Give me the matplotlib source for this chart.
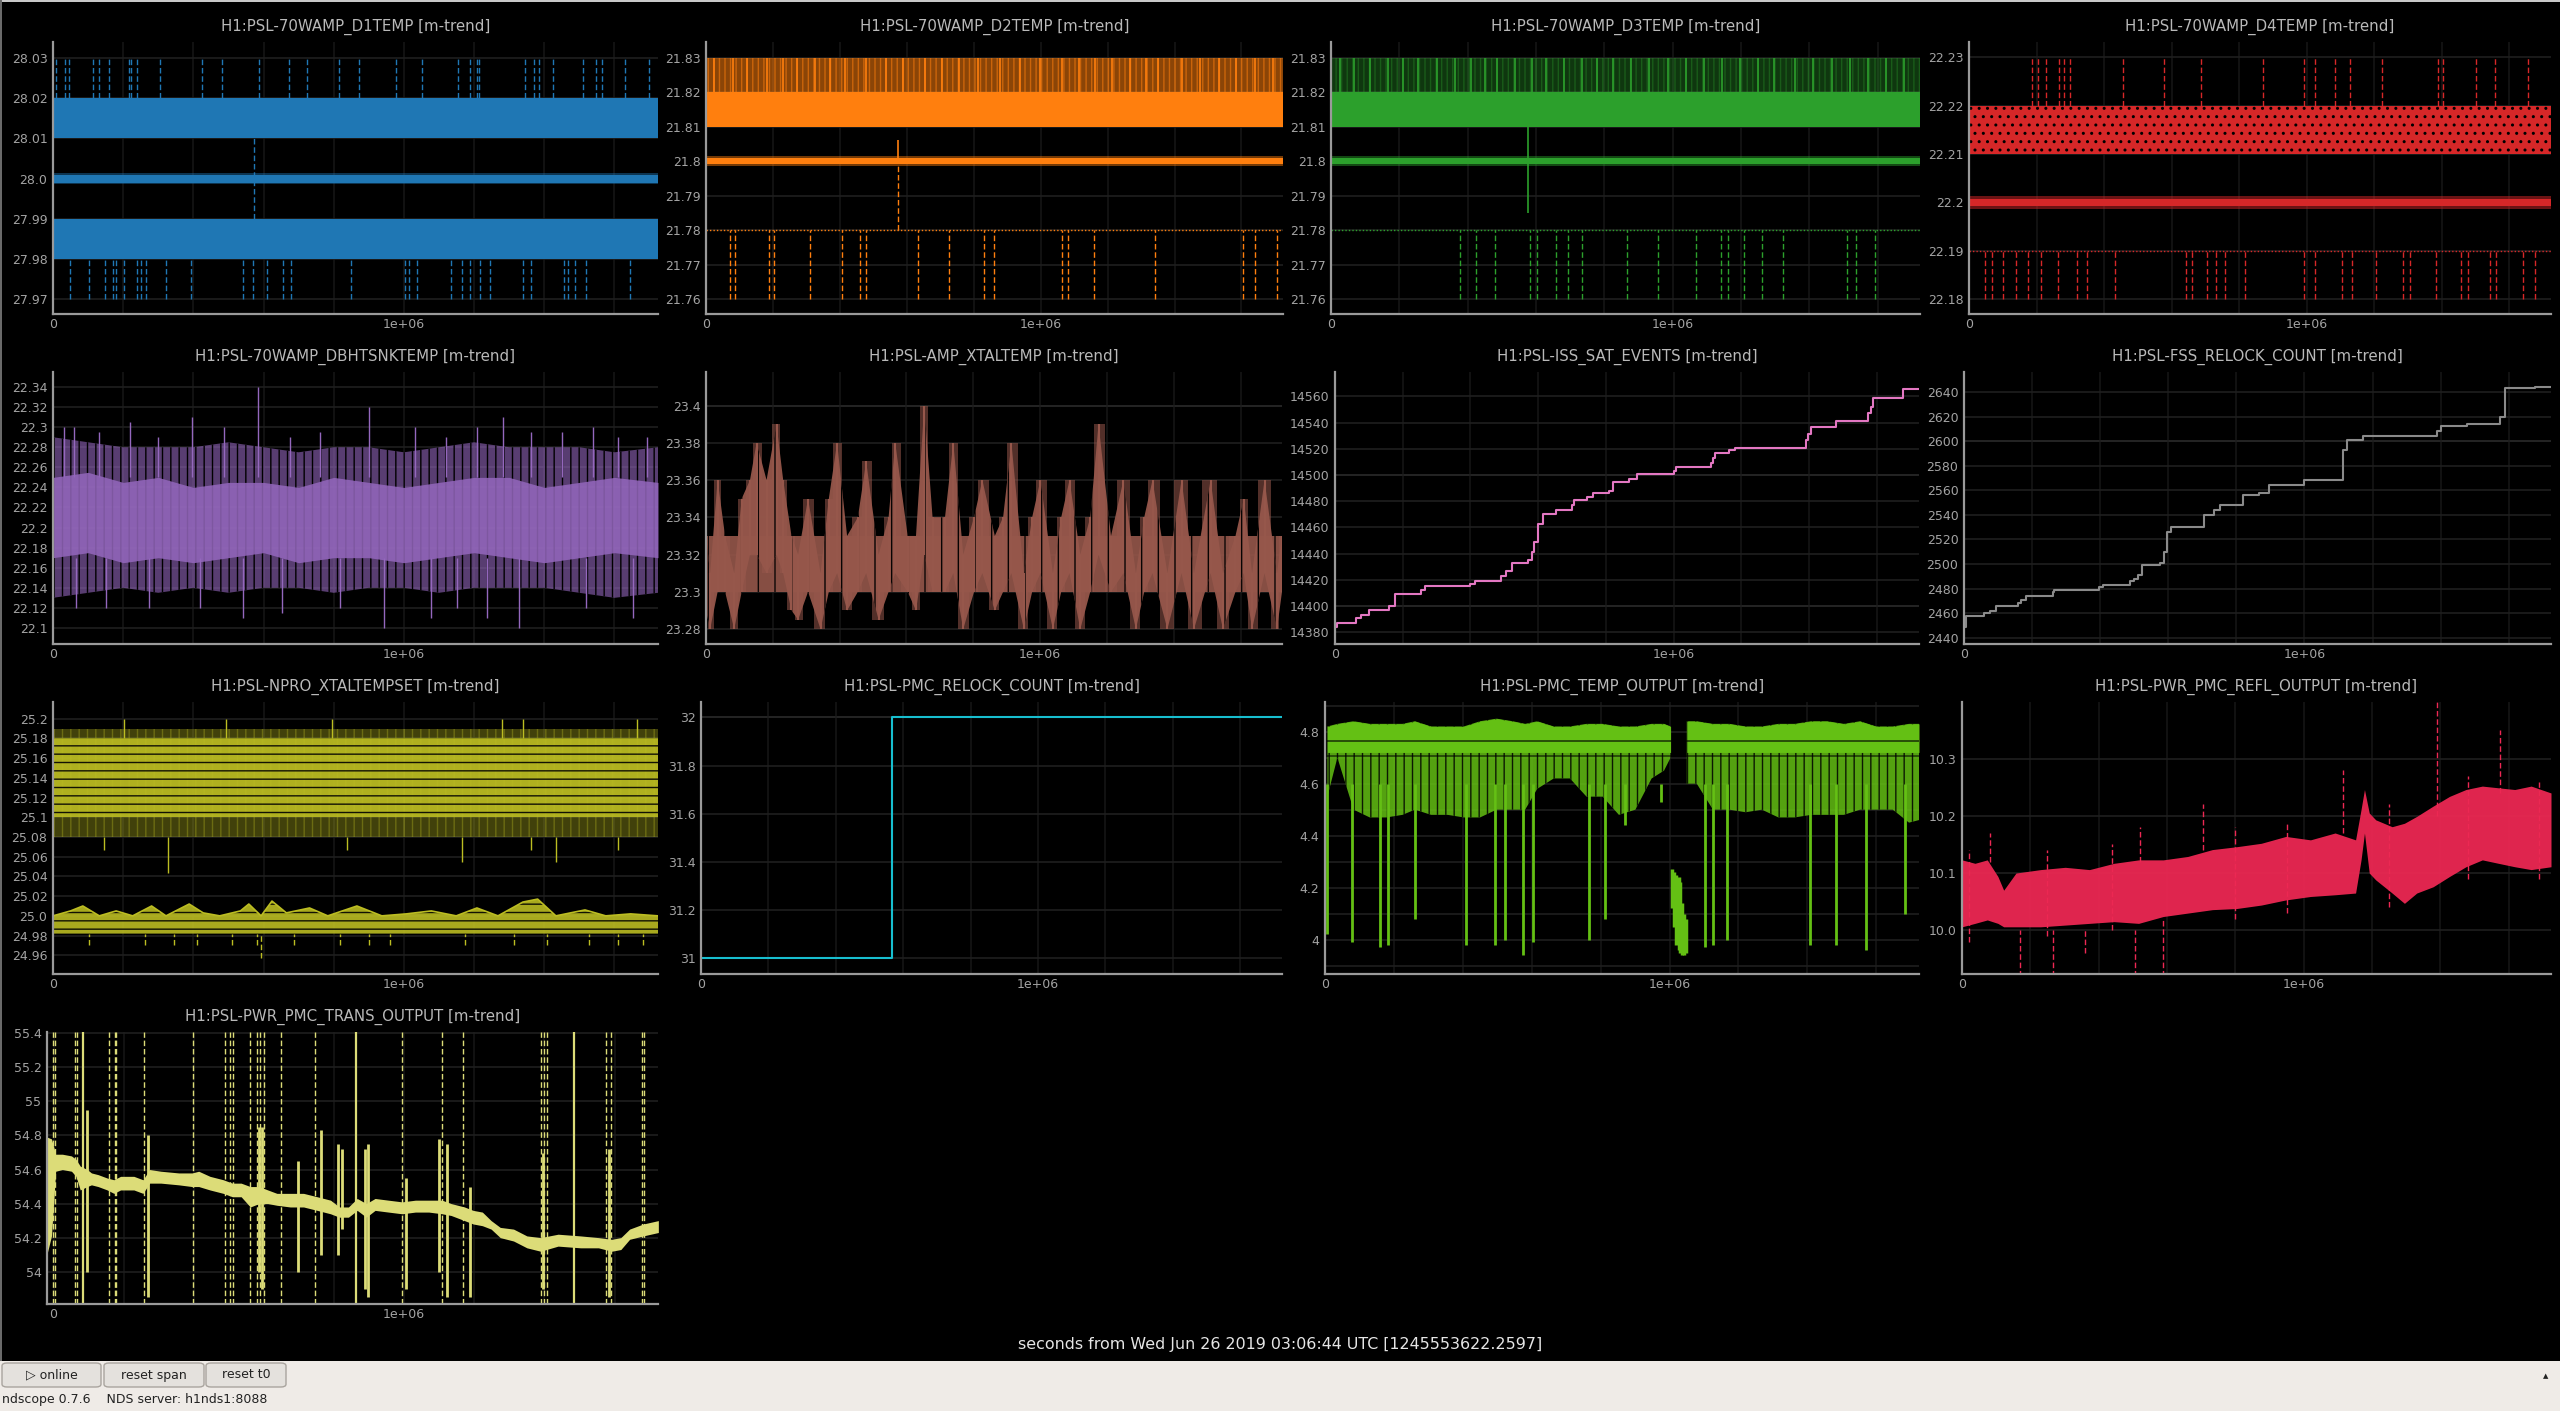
import numpy as np
import matplotlib
matplotlib.use('Agg')
import matplotlib.pyplot as plt
from matplotlib.patches import FancyBboxPatch, Rectangle

plt.rcParams['font.family'] = ['DejaVu Sans']
plt.rcParams['hatch.color'] = 'black'
plt.rcParams['hatch.linewidth'] = 1.0

W, H = 2560, 1411
MS = 1e6
XMAX = 1.724e6

# ---------------- data ----------------
x_ticks = [0, 1e6]
x_ticklabels = ['0', '1e+06']
x_minor = [2e5, 4e5, 6e5, 8e5, 1.2e6, 1.4e6, 1.6e6]
xlabel_text = 'seconds from Wed Jun 26 2019 03:06:44 UTC [1245553622.2597]'

titles = ['H1:PSL-70WAMP_D1TEMP [m-trend]', 'H1:PSL-70WAMP_D2TEMP [m-trend]',
          'H1:PSL-70WAMP_D3TEMP [m-trend]', 'H1:PSL-70WAMP_D4TEMP [m-trend]',
          'H1:PSL-70WAMP_DBHTSNKTEMP [m-trend]', 'H1:PSL-AMP_XTALTEMP [m-trend]',
          'H1:PSL-ISS_SAT_EVENTS [m-trend]', 'H1:PSL-FSS_RELOCK_COUNT [m-trend]',
          'H1:PSL-NPRO_XTALTEMPSET [m-trend]', 'H1:PSL-PMC_RELOCK_COUNT [m-trend]',
          'H1:PSL-PMC_TEMP_OUTPUT [m-trend]', 'H1:PSL-PWR_PMC_REFL_OUTPUT [m-trend]',
          'H1:PSL-PWR_PMC_TRANS_OUTPUT [m-trend]']

# D1TEMP
d1_yticks = [27.97, 27.98, 27.99, 28.0, 28.01, 28.02, 28.03]
d1_ylabels = ['27.97', '27.98', '27.99', '28.0', '28.01', '28.02', '28.03']
d1_max_band = [28.01, 28.02]
d1_mean_band = [27.9990, 28.0010]
d1_min_band = [27.98, 27.99]
d1_up_spikes = [0.009, 0.033, 0.046, 0.114, 0.130, 0.159, 0.216, 0.221, 0.240, 0.305, 0.425, 0.482,
                0.587, 0.672, 0.724, 0.816, 0.873, 0.976, 1.052, 1.155, 1.189, 1.209, 1.214, 1.344,
                1.371, 1.384, 1.426, 1.510, 1.547, 1.563, 1.629, 1.698]
d1_low_spikes = [0.048, 0.103, 0.147, 0.172, 0.179, 0.203, 0.239, 0.250, 0.266, 0.323, 0.392, 0.540,
                 0.569, 0.611, 0.654, 0.679, 0.849, 1.002, 1.014, 1.038, 1.134, 1.166, 1.189, 1.218,
                 1.246, 1.339, 1.363, 1.455, 1.468, 1.487, 1.520, 1.644]
d1_mid_spike = 0.572

# D2TEMP
d23_yticks = [21.76, 21.77, 21.78, 21.79, 21.80, 21.81, 21.82, 21.83]
d23_ylabels = ['21.76', '21.77', '21.78', '21.79', '21.8', '21.81', '21.82', '21.83']
d2_up_lines = [0.025, 0.080, 0.123, 0.182, 0.229, 0.272, 0.327, 0.370, 0.414, 0.479, 0.537, 0.588,
               0.653, 0.704, 0.755, 0.813, 0.878, 0.937, 0.998, 1.064, 1.114, 1.162, 1.212, 1.267,
               1.314, 1.350, 1.423, 1.477, 1.532, 1.583, 1.641, 1.695]
d2_low_spikes = [0.073, 0.087, 0.189, 0.203, 0.312, 0.407, 0.461, 0.479, 0.632, 0.726, 0.831, 0.860,
                 1.064, 1.082, 1.158, 1.343, 1.604, 1.641, 1.706]
d2_spike = [0.574, 21.806]

# D3TEMP
d3_up_lines = [0.025, 0.068, 0.114, 0.167, 0.210, 0.256, 0.309, 0.363, 0.409, 0.451, 0.487, 0.540,
               0.587, 0.629, 0.683, 0.736, 0.779, 0.825, 0.878, 0.931, 0.985, 1.038, 1.091, 1.145,
               1.198, 1.251, 1.298, 1.358, 1.411, 1.465, 1.518, 1.571, 1.625, 1.678]
d3_low_spikes = [0.377, 0.423, 0.480, 0.583, 0.604, 0.658, 0.693, 0.736, 0.867, 0.956, 1.067, 1.141,
                 1.162, 1.209, 1.262, 1.322, 1.511, 1.536, 1.593]
d3_spike = [0.576, 21.785]

# D4TEMP
d4_yticks = [22.18, 22.19, 22.20, 22.21, 22.22, 22.23]
d4_ylabels = ['22.18', '22.19', '22.2', '22.21', '22.22', '22.23']
d4_up_spikes = [0.187, 0.205, 0.227, 0.266, 0.281, 0.299, 0.457, 0.579, 0.687, 0.871, 0.993, 1.026,
                1.083, 1.130, 1.224, 1.389, 1.404, 1.501, 1.558, 1.656]
d4_low_spikes = [0.047, 0.068, 0.101, 0.140, 0.176, 0.212, 0.263, 0.320, 0.349, 0.432, 0.644, 0.662,
                 0.705, 0.731, 0.759, 0.817, 0.993, 1.026, 1.105, 1.134, 1.206, 1.285, 1.306, 1.382,
                 1.458, 1.479, 1.544, 1.562, 1.641, 1.677]

# DBHTSNKTEMP
db_yticks = [22.10, 22.12, 22.14, 22.16, 22.18, 22.20, 22.22, 22.24, 22.26, 22.28, 22.30, 22.32, 22.34]
db_ylabels = ['22.1', '22.12', '22.14', '22.16', '22.18', '22.2', '22.22', '22.24', '22.26', '22.28',
              '22.3', '22.32', '22.34']
db_x = [0, 0.1, 0.2, 0.3, 0.4, 0.5, 0.6, 0.7, 0.8, 0.9, 1.0, 1.1, 1.2, 1.3, 1.4, 1.5, 1.6, 1.724]
db_outer_hi = [22.29, 22.285, 22.28, 22.28, 22.28, 22.285, 22.28, 22.275, 22.28, 22.28, 22.275, 22.28,
               22.285, 22.28, 22.28, 22.28, 22.275, 22.28]
db_outer_lo = [22.13, 22.135, 22.14, 22.135, 22.14, 22.135, 22.14, 22.14, 22.135, 22.14, 22.14, 22.135,
               22.14, 22.14, 22.14, 22.135, 22.13, 22.135]
db_inner_hi = [22.25, 22.255, 22.245, 22.25, 22.24, 22.245, 22.245, 22.24, 22.25, 22.245, 22.24, 22.245,
               22.25, 22.25, 22.24, 22.245, 22.25, 22.245]
db_inner_lo = [22.17, 22.175, 22.165, 22.17, 22.165, 22.17, 22.175, 22.165, 22.17, 22.17, 22.165, 22.17,
               22.175, 22.17, 22.165, 22.17, 22.175, 22.17]
db_up_x = [0.584, 0.901, 0.395, 1.282, 0.220, 1.540, 0.061, 1.209, 1.031, 0.487, 0.676, 1.362, 1.611, 1.693,
           0.030, 0.130, 0.300, 0.760, 1.120, 1.450]
db_up_v = [22.34, 22.32, 22.31, 22.31, 22.305, 22.30, 22.30, 22.30, 22.30, 22.30, 22.29, 22.295, 22.29, 22.29,
           22.30, 22.295, 22.29, 22.295, 22.29, 22.295]
db_dn_x = [0.542, 0.944, 1.078, 1.237, 1.327, 1.653, 0.066, 0.274, 0.653, 0.818, 0.150, 0.420, 1.150, 1.520]
db_dn_v = [22.11, 22.10, 22.11, 22.11, 22.10, 22.11, 22.12, 22.12, 22.115, 22.12, 22.12, 22.12, 22.12, 22.12]

# AMP_XTALTEMP
xt_yticks = [23.28, 23.30, 23.32, 23.34, 23.36, 23.38, 23.40]
xt_ylabels = ['23.28', '23.3', '23.32', '23.34', '23.36', '23.38', '23.4']
xt_core = [23.30, 23.33]
xt_x = [0, 0.0124, 0.0348, 0.0571, 0.0845, 0.1068, 0.1317, 0.1515, 0.1813, 0.2111, 0.2310, 0.2559,
        0.2757, 0.3055, 0.3428, 0.3676, 0.3925, 0.4223, 0.4546, 0.4794, 0.5167, 0.5465, 0.5664, 0.6036,
        0.6285, 0.6533, 0.6781, 0.7154, 0.7402, 0.7700, 0.8023, 0.8272, 0.8644, 0.8893, 0.9141, 0.9514,
        0.9762, 1.0011, 1.0383, 1.0632, 1.0880, 1.1203, 1.1501, 1.1749, 1.2122, 1.2494, 1.2867, 1.3116,
        1.3364, 1.3811, 1.4233, 1.4606, 1.5103, 1.5475, 1.5848, 1.6096, 1.6345, 1.6717, 1.7090, 1.724]
xt_lo = [23.29, 23.28, 23.30, 23.30, 23.28, 23.30, 23.32, 23.32, 23.31, 23.32, 23.31, 23.29,
         23.285, 23.30, 23.28, 23.30, 23.31, 23.29, 23.30, 23.31, 23.285, 23.30, 23.31, 23.30,
         23.29, 23.32, 23.30, 23.30, 23.31, 23.28, 23.30, 23.31, 23.29, 23.30, 23.31, 23.28,
         23.30, 23.31, 23.28, 23.30, 23.31, 23.28, 23.30, 23.32, 23.30, 23.31, 23.28, 23.30,
         23.31, 23.28, 23.31, 23.28, 23.31, 23.28, 23.30, 23.31, 23.28, 23.31, 23.28, 23.30]
xt_hi = [23.33, 23.31, 23.36, 23.33, 23.31, 23.35, 23.36, 23.38, 23.36, 23.39, 23.36, 23.33,
         23.32, 23.35, 23.31, 23.35, 23.38, 23.33, 23.34, 23.37, 23.32, 23.34, 23.38, 23.33,
         23.33, 23.40, 23.34, 23.34, 23.38, 23.32, 23.34, 23.36, 23.33, 23.34, 23.38, 23.31,
         23.34, 23.36, 23.31, 23.34, 23.36, 23.32, 23.34, 23.39, 23.33, 23.36, 23.31, 23.34,
         23.36, 23.31, 23.36, 23.31, 23.36, 23.31, 23.33, 23.35, 23.31, 23.36, 23.31, 23.33]

# ISS_SAT_EVENTS
iss_yticks = [14380, 14400, 14420, 14440, 14460, 14480, 14500, 14520, 14540, 14560]
iss_t = [0.000, 0.007, 0.063, 0.077, 0.099, 0.159, 0.178, 0.255, 0.265, 0.400, 0.412, 0.490, 0.504,
         0.523, 0.569, 0.581, 0.586, 0.598, 0.615, 0.651, 0.699, 0.707, 0.743, 0.762, 0.808, 0.822,
         0.868, 0.892, 1.001, 1.008, 1.109, 1.116, 1.123, 1.162, 1.181, 1.389, 1.396, 1.406, 1.479,
         1.574, 1.582, 1.589, 1.678, 1.724]
iss_v = [14384, 14387, 14391, 14393, 14397, 14400, 14409, 14412, 14415, 14417, 14419, 14423, 14427,
         14433, 14435, 14441, 14449, 14463, 14470, 14473, 14477, 14481, 14483, 14486, 14488, 14495,
         14497, 14501, 14503, 14506, 14509, 14513, 14517, 14519, 14521, 14527, 14531, 14537, 14541,
         14547, 14552, 14559, 14566, 14566]

# FSS_RELOCK_COUNT
fss_yticks = [2440, 2460, 2480, 2500, 2520, 2540, 2560, 2580, 2600, 2620, 2640]
fss_t = [0, 0.007, 0.060, 0.075, 0.094, 0.159, 0.168, 0.183, 0.260, 0.264, 0.397, 0.409, 0.488, 0.500,
         0.512, 0.524, 0.575, 0.587, 0.596, 0.608, 0.704, 0.733, 0.752, 0.820, 0.865, 0.897, 0.998,
         1.113, 1.125, 1.173, 1.390, 1.402, 1.478, 1.575, 1.589, 1.678, 1.724]
fss_v = [2449, 2458, 2460, 2462, 2466, 2468, 2471, 2474, 2477, 2479, 2481, 2483, 2486, 2488, 2491,
         2499, 2501, 2510, 2526, 2530, 2540, 2544, 2548, 2556, 2558, 2564, 2568, 2593, 2601, 2604,
         2608, 2612, 2614, 2620, 2643, 2644, 2644]

# NPRO_XTALTEMPSET
np_yticks = [24.96, 24.98, 25.00, 25.02, 25.04, 25.06, 25.08, 25.10, 25.12, 25.14, 25.16, 25.18, 25.20]
np_ylabels = ['24.96', '24.98', '25.0', '25.02', '25.04', '25.06', '25.08', '25.1', '25.12', '25.14',
              '25.16', '25.18', '25.2']
np_up_outer = [25.08, 25.19]
np_up_core = [25.10, 25.18]
np_low_x = [0, 0.050, 0.085, 0.132, 0.180, 0.227, 0.281, 0.322, 0.388, 0.428, 0.475, 0.534, 0.558,
            0.593, 0.624, 0.665, 0.731, 0.783, 0.866, 0.937, 1.007, 1.078, 1.149, 1.208, 1.268,
            1.339, 1.381, 1.433, 1.516, 1.575, 1.646, 1.724]
np_low_hi = [25.00, 25.005, 25.01, 25.0, 25.005, 25.0, 25.01, 25.0, 25.012, 25.003, 25.0, 25.005,
             25.012, 25.0, 25.015, 25.003, 25.008, 25.0, 25.01, 25.0, 25.002, 25.005, 25.0, 25.008,
             25.0, 25.014, 25.017, 25.0, 25.006, 25.0, 25.002, 25.0]
np_low_lo = 24.982
np_dn_x = [0.104, 0.262, 0.345, 0.409, 0.511, 0.582, 0.594, 0.688, 0.818, 0.901, 0.960, 1.173, 1.315,
           1.409, 1.528, 1.610, 1.681]
np_dn_v = [24.97, 24.97, 24.97, 24.97, 24.97, 24.97, 24.957, 24.97, 24.97, 24.97, 24.97, 24.97, 24.97,
           24.97, 24.97, 24.97, 24.97]
np_up_spk = [0.203, 0.494, 0.795, 1.279, 1.339, 1.665]
np_mid_x = [0.144, 0.329, 0.837, 1.166, 1.362, 1.433, 1.611]
np_mid_v = [25.067, 25.043, 25.067, 25.055, 25.067, 25.055, 25.067]

# PMC_RELOCK_COUNT
pr_yticks = [31.0, 31.2, 31.4, 31.6, 31.8, 32.0]
pr_ylabels = ['31', '31.2', '31.4', '31.6', '31.8', '32']
pr_t = [0, 0.568, 1.724]
pr_v = [31, 32, 32]

# PMC_TEMP_OUTPUT
pt_yticks = [4.0, 4.2, 4.4, 4.6, 4.8]
pt_ylabels = ['4', '4.2', '4.4', '4.6', '4.8']
pt_minor = [3.9, 4.1, 4.3, 4.5, 4.7, 4.9]
pt_a_x = [0.007, 0.036, 0.083, 0.130, 0.178, 0.225, 0.261, 0.308, 0.356, 0.403, 0.450, 0.498, 0.545,
          0.581, 0.616, 0.664, 0.711, 0.759, 0.806, 0.853, 0.901, 0.948, 0.984, 1.003]
pt_a_hi = [4.82, 4.83, 4.84, 4.83, 4.83, 4.83, 4.84, 4.82, 4.82, 4.82, 4.84, 4.85, 4.84, 4.83, 4.84,
           4.82, 4.82, 4.83, 4.83, 4.82, 4.82, 4.83, 4.83, 4.82]
pt_a_lo = [4.55, 4.70, 4.50, 4.47, 4.47, 4.48, 4.50, 4.48, 4.48, 4.47, 4.47, 4.50, 4.50, 4.50, 4.58,
           4.62, 4.62, 4.55, 4.55, 4.48, 4.50, 4.62, 4.65, 4.70]
pt_b_x = [1.050, 1.079, 1.126, 1.174, 1.221, 1.268, 1.316, 1.363, 1.411, 1.458, 1.506, 1.553, 1.600,
          1.648, 1.695, 1.724]
pt_b_hi = [4.84, 4.84, 4.83, 4.83, 4.82, 4.82, 4.83, 4.83, 4.84, 4.84, 4.83, 4.84, 4.82, 4.82, 4.83, 4.83]
pt_b_lo = [4.60, 4.60, 4.50, 4.50, 4.49, 4.50, 4.47, 4.47, 4.48, 4.48, 4.48, 4.50, 4.50, 4.50, 4.45, 4.46]
pt_gap_x = [1.008, 1.014, 1.020, 1.026, 1.031, 1.037, 1.043, 1.048]
pt_gap_hi = [4.27, 4.26, 4.25, 4.24, 4.22, 4.14, 4.10, 4.08]
pt_gap_lo = [4.12, 4.05, 3.98, 3.96, 3.95, 3.94, 3.94, 3.95]
pt_dip_x = [0.007, 0.078, 0.159, 0.183, 0.261, 0.410, 0.493, 0.522, 0.574, 0.605, 0.766, 0.813, 0.870,
            0.974, 1.103, 1.126, 1.167, 1.408, 1.482, 1.570, 1.683]
pt_dip_v = [4.02, 3.99, 3.97, 3.98, 4.08, 3.98, 3.98, 4.00, 3.94, 3.99, 4.00, 4.08, 4.44, 4.53, 3.97,
            3.98, 4.00, 3.98, 3.98, 3.96, 4.10]

# PWR_PMC_REFL_OUTPUT
rf_yticks = [10.0, 10.1, 10.2, 10.3]
rf_ylabels = ['10.0', '10.1', '10.2', '10.3']
rf_x = [0, 0.038, 0.074, 0.105, 0.122, 0.158, 0.230, 0.302, 0.373, 0.445, 0.517, 0.589, 0.661, 0.733,
        0.804, 0.876, 0.948, 1.020, 1.092, 1.152, 1.168, 1.178, 1.192, 1.211, 1.259, 1.295, 1.331,
        1.379, 1.427, 1.475, 1.523, 1.570, 1.618, 1.666, 1.724]
rf_hi = [10.123, 10.117, 10.123, 10.094, 10.070, 10.100, 10.106, 10.110, 10.106, 10.117, 10.123,
         10.123, 10.129, 10.141, 10.146, 10.152, 10.164, 10.158, 10.170, 10.158, 10.211, 10.246,
         10.205, 10.193, 10.181, 10.187, 10.199, 10.217, 10.234, 10.246, 10.252, 10.249, 10.246,
         10.252, 10.240]
rf_lo = [10.006, 10.012, 10.018, 10.012, 10.006, 10.006, 10.006, 10.009, 10.012, 10.015, 10.012,
         10.024, 10.030, 10.036, 10.038, 10.044, 10.053, 10.059, 10.062, 10.065, 10.123, 10.170,
         10.100, 10.088, 10.065, 10.047, 10.065, 10.076, 10.094, 10.111, 10.123, 10.117, 10.111,
         10.106, 10.111]
rf_spk_x = [1.391, 1.575, 1.116, 0.704, 0.081, 0.522, 0.170, 0.266, 0.505, 0.589, 0.361,
            0.020, 0.250, 0.440, 0.800, 0.950, 1.250, 1.480, 1.690]
rf_spk_lo = [10.20, 10.24, 10.17, 10.14, 10.12, 10.12, 9.92, 9.92, 9.92, 9.92, 9.96,
             9.98, 9.99, 10.0, 10.02, 10.03, 10.04, 10.09, 10.09]
rf_spk_hi = [10.40, 10.35, 10.28, 10.22, 10.17, 10.18, 10.00, 10.00, 10.00, 10.02, 10.00,
             10.14, 10.14, 10.15, 10.18, 10.19, 10.22, 10.27, 10.26]

# PWR_PMC_TRANS_OUTPUT
tr_yticks = [54.0, 54.2, 54.4, 54.6, 54.8, 55.0, 55.2, 55.4]
tr_ylabels = ['54', '54.2', '54.4', '54.6', '54.8', '55', '55.2', '55.4']
tr_x = [-0.018, -0.006, 0.006, 0.025, 0.051, 0.064, 0.076, 0.096, 0.108, 0.127, 0.153, 0.172, 0.191,
        0.229, 0.255, 0.274, 0.306, 0.357, 0.395, 0.414, 0.446, 0.484, 0.510, 0.535, 0.561, 0.586,
        0.611, 0.637, 0.675, 0.713, 0.752, 0.790, 0.815, 0.841, 0.866, 0.892, 0.917, 0.955, 0.994,
        1.032, 1.070, 1.108, 1.134, 1.172, 1.197, 1.223, 1.248, 1.274, 1.312, 1.350, 1.389, 1.439,
        1.503, 1.554, 1.592, 1.618, 1.643, 1.682, 1.725]
tr_hi = [54.79, 54.78, 54.69, 54.69, 54.68, 54.66, 54.62, 54.60, 54.58, 54.57, 54.55, 54.54, 54.56,
         54.56, 54.54, 54.60, 54.59, 54.58, 54.58, 54.59, 54.56, 54.54, 54.52, 54.52, 54.50, 54.50,
         54.48, 54.46, 54.46, 54.46, 54.44, 54.42, 54.38, 54.38, 54.43, 54.40, 54.43, 54.42, 54.41,
         54.42, 54.42, 54.42, 54.40, 54.38, 54.36, 54.35, 54.30, 54.26, 54.25, 54.21, 54.20, 54.22,
         54.21, 54.20, 54.19, 54.20, 54.25, 54.28, 54.30]
tr_lo = [54.11, 54.21, 54.59, 54.60, 54.59, 54.56, 54.48, 54.50, 54.51, 54.50, 54.48, 54.46, 54.48,
         54.48, 54.46, 54.52, 54.52, 54.51, 54.50, 54.50, 54.48, 54.46, 54.44, 54.44, 54.38, 54.40,
         54.40, 54.39, 54.38, 54.38, 54.36, 54.34, 54.32, 54.32, 54.36, 54.32, 54.36, 54.35, 54.34,
         54.35, 54.35, 54.34, 54.33, 54.30, 54.28, 54.27, 54.25, 54.20, 54.18, 54.14, 54.12, 54.15,
         54.14, 54.14, 54.12, 54.13, 54.19, 54.21, 54.23]
tr_full_spk = [-0.003, 0.003, 0.061, 0.066, 0.157, 0.175, 0.177, 0.257, 0.397, 0.488, 0.504, 0.513,
               0.561, 0.580, 0.590, 0.601, 0.650, 0.745, 0.994, 1.108, 1.169, 1.391, 1.399, 1.408,
               1.577, 1.590, 1.679, 1.684]
tr_solid_spk = [0.083, 0.864, 1.484]
tr_part_x = [0.096, 0.268, 0.698, 0.764, 0.811, 0.822, 0.889, 0.898, 1.004, 1.121, 1.187, 0.585, 0.595,
             1.100, 1.395, 1.583]
tr_part_lo = [54.0, 53.85, 54.0, 54.1, 54.1, 54.25, 53.9, 53.85, 53.9, 53.85, 53.85, 54.0, 53.9,
              54.0, 53.9, 53.85]
tr_part_hi = [54.95, 54.8, 54.65, 54.83, 54.75, 54.72, 54.72, 54.75, 54.55, 54.75, 54.5, 54.85, 54.85,
              54.78, 54.7, 54.72]

# ---------------- style ----------------
BG = 'black'
AXC = '#9a9a9a'
TICKC = '#a3a3a3'
TITLEC = '#b9b9b9'
GRID = '#1f1f1f'
GRID_B = '#3a3a3a'
VGRID = '#151515'
DASH = (0, (4, 2))

fig = plt.figure(figsize=(W / 100, H / 100), dpi=100, facecolor=BG)


def make_ax(l, r, t, b, title, ylim, yticks, ylabels, xlim=(0, XMAX), bright=()):
    ax = fig.add_axes([l / W, 1 - b / H, (r - l) / W, (b - t) / H])
    ax.set_facecolor(BG)
    ax.set_xlim(*xlim)
    ax.set_ylim(*ylim)
    ax.set_xticks(x_ticks)
    ax.set_xticklabels(x_ticklabels)
    ax.set_xticks(x_minor, minor=True)
    ax.set_yticks(yticks)
    ax.set_yticklabels(ylabels)
    for s in ['top', 'right']:
        ax.spines[s].set_visible(False)
    for s in ['left', 'bottom']:
        ax.spines[s].set_color(AXC)
        ax.spines[s].set_linewidth(1.6)
    ax.tick_params(which='both', length=0, colors=TICKC, labelsize=9)
    ax.tick_params(axis='y', pad=4)
    ax.tick_params(axis='x', pad=3)
    ax.grid(True, which='major', axis='y', color=GRID, lw=1.2)
    ax.grid(True, which='both', axis='x', color=VGRID, lw=1.2)
    for v in bright:
        ax.axhline(v, color=GRID_B, lw=1.4, zorder=0.5)
    ax.set_axisbelow(True)
    fig.text((l + r) / 2 / W, 1 - (t - 15) / H, title, ha='center', va='center',
             color=TITLEC, fontsize=10.8)
    return ax


def arr(v):
    return np.asarray(v) * MS


full = [0, XMAX]
R1, R2, R3, R4 = (42, 314), (372, 644), (702, 974), (1032, 1304)

# ---- D1 ----
c = '#1f77b4'
ax = make_ax(53, 658, *R1, titles[0], (27.9663, 28.034), d1_yticks, d1_ylabels)
ax.fill_between(full, *d1_max_band, color=c, lw=0)
ax.fill_between(full, *d1_min_band, color=c, lw=0)
ax.fill_between(full, d1_mean_band[0] - 0.0004, d1_mean_band[1] + 0.0004, color=c, alpha=0.45, lw=0)
ax.fill_between(full, *d1_mean_band, color=c, lw=0)
ax.vlines(arr(d1_up_spikes), 28.02, 28.03, colors=c, lw=1, linestyles=DASH)
ax.vlines(arr(d1_low_spikes), 27.97, 27.98, colors=c, lw=1, linestyles=DASH)
ax.vlines([d1_mid_spike * MS], 27.99, 28.01, colors=c, lw=1, linestyles=DASH)

# ---- D2 / D3 ----
for (l, r, ti, c, up_lines, low_sp, spk, ualpha) in [
        (706, 1283, titles[1], '#ff7f0e', d2_up_lines, d2_low_spikes, d2_spike, 0.55),
        (1331, 1920, titles[2], '#2ca02c', d3_up_lines, d3_low_spikes, d3_spike, 0.35)]:
    ax = make_ax(l, r, *R1, ti, (21.7557, 21.8345), d23_yticks, d23_ylabels)
    ax.fill_between(full, 21.82, 21.83, color=c, alpha=ualpha, lw=0, hatch='|||')
    ax.vlines(arr(up_lines), 21.82, 21.83, colors=c, lw=1.2)
    ax.fill_between(full, 21.81, 21.82, color=c, lw=0)
    ax.fill_between(full, 21.7985, 21.8015, color=c, alpha=0.45, lw=0)
    ax.fill_between(full, 21.7991, 21.8009, color=c, lw=0)
    ax.axhline(21.78, color=c, lw=1, ls=(0, (1, 1.5)))
    ax.vlines(arr(low_sp), 21.76, 21.78, colors=c, lw=1, linestyles=DASH)
    if spk[1] > 21.8:
        ax.vlines([spk[0] * MS], 21.8, spk[1], colors=c, lw=1.2)
        ax.vlines([spk[0] * MS], 21.78, 21.8, colors=c, lw=1, linestyles=DASH)
    else:
        ax.vlines([spk[0] * MS], spk[1], 21.81, colors=c, lw=1.2)

# ---- D4 ----
c = '#d62728'
ax = make_ax(1969, 2551, *R1, titles[3], (22.1769, 22.2332), d4_yticks, d4_ylabels)
ax.vlines(arr(d4_up_spikes), 22.22, 22.23, colors=c, lw=1, linestyles=DASH)
ax.fill_between(full, 22.21, 22.22, facecolor=c, edgecolor='black', lw=0, hatch='..')
ax.fill_between(full, 22.1987, 22.2013, color=c, alpha=0.5, lw=0)
ax.fill_between(full, 22.1992, 22.2008, color=c, lw=0)
ax.axhline(22.19, color=c, lw=1, ls=(0, (1, 1.5)))
ax.vlines(arr(d4_low_spikes), 22.18, 22.19, colors=c, lw=1, linestyles=DASH)

# ---- DBHTSNK ----
c = '#9467bd'
ax = make_ax(53, 658, *R2, titles[4], (22.084, 22.355), db_yticks, db_ylabels)
ax.fill_between(arr(db_x), db_outer_lo, db_outer_hi, facecolor=c, alpha=0.6, lw=0, hatch='||')
ax.fill_between(arr(db_x), db_inner_lo, db_inner_hi, color=c, alpha=0.85, lw=0)
ax.vlines(arr(db_up_x), 22.25, db_up_v, colors=c, lw=1)
ax.vlines(arr(db_dn_x), db_dn_v, 22.17, colors=c, lw=1)

# ---- XTALTEMP ----
c = '#96574b'
ax = make_ax(706, 1282, *R2, titles[5], (23.272, 23.418), xt_yticks, xt_ylabels, bright=(23.4,))
ax.fill_between(full, *xt_core, facecolor=c, lw=0, hatch='|', edgecolor='black', alpha=0.9)
ax.fill_between(arr(xt_x), xt_lo, xt_hi, facecolor=c, lw=0, step='mid', alpha=0.55)
ax.fill_between(arr(xt_x), xt_lo, xt_hi, facecolor=c, lw=0, hatch='|', edgecolor='black', alpha=0.95)
ax.vlines(arr(xt_x), xt_lo, xt_hi, colors=c, lw=1.5)

# ---- ISS ----
ax = make_ax(1335, 1919, *R2, titles[6], (14371.1, 14578.6), iss_yticks,
             [str(v) for v in iss_yticks], bright=(14400, 14500))
ax.plot(arr(iss_t), iss_v, color='#e377c2', lw=1.5, drawstyle='steps-post')

# ---- FSS ----
ax = make_ax(1964, 2551, *R2, titles[7], (2434.9, 2656.3), fss_yticks,
             [str(v) for v in fss_yticks], bright=(2600,))
ax.plot(arr(fss_t), fss_v, color='#8a8a8a', lw=1.5, drawstyle='steps-post')

# ---- NPRO ----
c = '#bcbd22'
ax = make_ax(53, 658, *R3, titles[8], (24.941, 25.217), np_yticks, np_ylabels)
ax.fill_between(full, *np_up_outer, color=c, alpha=0.35, lw=0, hatch='||')
ax.fill_between(full, *np_up_core, facecolor=c, edgecolor='black', alpha=0.9, lw=0, hatch='--')
ax.vlines(arr(np_up_spk), 25.18, 25.2, colors=c, lw=1)
ax.vlines(arr(np_mid_x), np_mid_v, 25.08, colors=c, lw=1)
ax.fill_between(arr(np_low_x), np_low_lo, np_low_hi, facecolor=c, edgecolor='black', alpha=0.9,
                lw=0, hatch='--')
ax.plot(arr(np_low_x), np_low_hi, color=c, lw=1.2)
ax.vlines(arr(np_dn_x), np_dn_v, np_low_lo, colors=c, lw=1, linestyles=DASH)

# ---- PMC RELOCK ----
ax = make_ax(701, 1282, *R3, titles[9], (30.935, 32.064), pr_yticks, pr_ylabels, bright=(32,))
ax.plot(arr(pr_t), pr_v, color='#17becf', lw=1.5, drawstyle='steps-post')

# ---- PMC TEMP ----
c = '#64c014'
ax = make_ax(1325, 1919, *R3, titles[10], (3.868, 4.914), pt_yticks, pt_ylabels)
ax.set_yticks(pt_minor, minor=True)
ax.grid(True, which='minor', axis='y', color=GRID, lw=1.2)
for xs, hi, lo in [(pt_a_x, pt_a_hi, pt_a_lo), (pt_b_x, pt_b_hi, pt_b_lo)]:
    ax.fill_between(arr(xs), lo, hi, facecolor=c, alpha=0.85, lw=0, hatch='||', edgecolor='black')
    ax.fill_between(arr(xs), 4.72, hi, color=c, lw=0)
    ax.plot([xs[0] * MS, xs[-1] * MS], [4.765, 4.765], color='black', lw=1.2, alpha=0.7)
    ax.plot([xs[0] * MS, xs[-1] * MS], [4.705, 4.705], color='black', lw=1.2, alpha=0.6)
ax.vlines(arr(pt_gap_x), pt_gap_lo, pt_gap_hi, colors=c, lw=2.5)
ax.vlines(arr(pt_dip_x), pt_dip_v, 4.6, colors=c, lw=2)

# ---- REFL ----
c = '#ec2853'
ax = make_ax(1962, 2551, *R3, titles[11], (9.9235, 10.399), rf_yticks, rf_ylabels)
ax.fill_between(arr(rf_x), rf_lo, rf_hi, color=c, lw=0, alpha=0.95)
ax.vlines(arr(rf_spk_x), rf_spk_lo, rf_spk_hi, colors=c, lw=1, linestyles=DASH)

# ---- TRANS ----
c = '#dcdc78'
ax = make_ax(47, 658, *R4, titles[12], (53.81, 55.408), tr_yticks, tr_ylabels, xlim=(-0.0188e6, XMAX))
ax.vlines(arr(tr_full_spk), 53.81, 55.41, colors=c, lw=1, linestyles=DASH)
ax.vlines(arr(tr_solid_spk), 53.81, 55.41, colors=c, lw=1.6)
ax.vlines(arr(tr_part_x), tr_part_lo, tr_part_hi, colors=c, lw=2)
ax.fill_between(arr(tr_x), tr_lo, tr_hi, color=c, lw=0)

# ---- global x label ----
fig.text(1280 / W, 1 - 1345 / H, xlabel_text, ha='center', va='center', color='#e6e6e6', fontsize=11.4)

# ---- frame / bottom bar ----
fig.add_artist(Rectangle((0, 1 - 2 / H), 1, 2 / H, transform=fig.transFigure, color='#c8c8c8', lw=0))
fig.add_artist(Rectangle((0, 0), 2 / W, 1, transform=fig.transFigure, color='#6a6a6a', lw=0))
fig.add_artist(Rectangle((0, 0), 1, 50 / H, transform=fig.transFigure, color='#efebe7', lw=0))

buttons = [('\u25b7 online', 2, 101), ('reset span', 104, 204), ('reset t0', 206, 286)]
for label, x0, x1 in buttons:
    bx = FancyBboxPatch((x0 / W, 1 - 1387 / H), (x1 - x0) / W, 24 / H,
                        boxstyle='round,pad=0,rounding_size=0.002', transform=fig.transFigure,
                        facecolor='#e4e1dd', edgecolor='#a9a49e', lw=1)
    fig.add_artist(bx)
    fig.text((x0 + x1) / 2 / W, 1 - 1375 / H, label, ha='center', va='center', color='#222222',
             fontsize=9)
fig.text(2 / W, 1 - 1400 / H, 'ndscope 0.7.6    NDS server: h1nds1:8088', ha='left', va='center',
         color='#222222', fontsize=9)
fig.text(2546 / W, 1 - 1376 / H, '\u25b2', ha='center', va='center', color='#222222', fontsize=5)

fig.savefig('out.png', dpi=100, facecolor=BG)
